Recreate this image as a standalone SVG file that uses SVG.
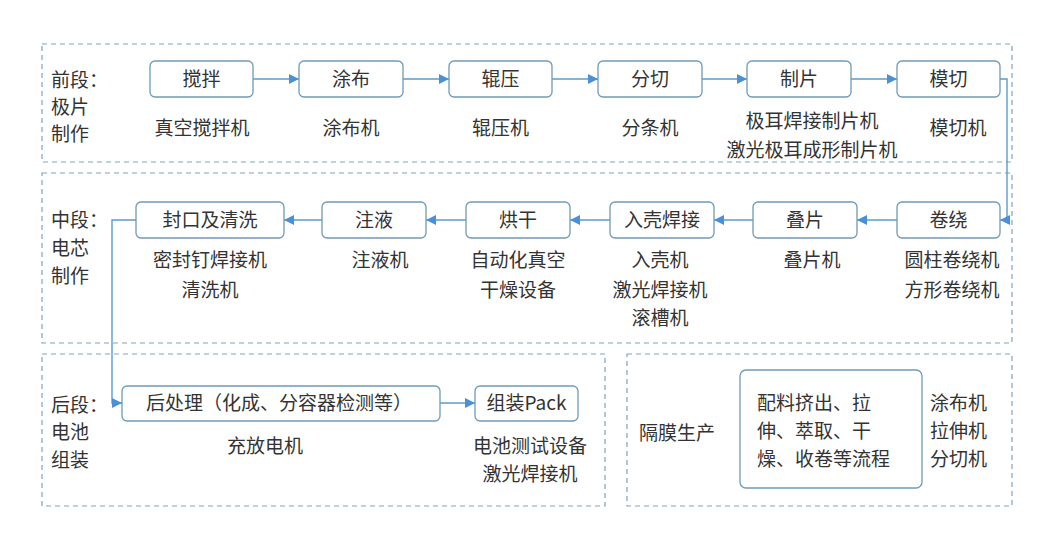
<svg xmlns="http://www.w3.org/2000/svg" width="1050" height="540" viewBox="0 0 1050 540">
<defs>
<marker id="ah" viewBox="0 0 10 10" refX="10" refY="5" markerWidth="10" markerHeight="10" markerUnits="userSpaceOnUse" orient="auto">
<path d="M0,0 L10,5 L0,10 z" fill="#4a90d9"/>
</marker>
<style>
.panel{fill:none;stroke:#7fa3bb;stroke-width:1.2;stroke-dasharray:5 4}
.box{fill:#ffffff;stroke:#6f9bb8;stroke-width:1.3}
.t{font-family:"Noto Sans CJK SC","Noto Sans",sans-serif;font-size:19px;fill:#333333}
.c{text-anchor:middle}
.conn{fill:none;stroke:#5c9bc9;stroke-width:1.4}
</style>
</defs>
<rect width="1050" height="540" fill="#ffffff"/>
<g id="panels">
<rect class="panel" x="42" y="44" width="970" height="118"/>
<rect class="panel" x="42" y="173" width="970" height="170"/>
<rect class="panel" x="42" y="354" width="563" height="152"/>
<rect class="panel" x="627" y="354" width="385" height="152"/>
</g>
<g id="stage-labels">
<text class="t" x="51" y="87">前段：</text><text class="t" x="51" y="114">极片</text><text class="t" x="51" y="141">制作</text>
<text class="t" x="51" y="227">中段：</text><text class="t" x="51" y="255">电芯</text><text class="t" x="51" y="283">制作</text>
<text class="t" x="51" y="412">后段：</text><text class="t" x="51" y="439">电池</text><text class="t" x="51" y="467">组装</text>
</g>
<g id="connectors">
<path class="conn" d="M253,79 H299" marker-end="url(#ah)"/>
<path class="conn" d="M403,79 H449" marker-end="url(#ah)"/>
<path class="conn" d="M552,79 H598" marker-end="url(#ah)"/>
<path class="conn" d="M702,79 H747" marker-end="url(#ah)"/>
<path class="conn" d="M851,79 H897" marker-end="url(#ah)"/>
<path class="conn" d="M1000,79 H1007 V220 H1000" marker-end="url(#ah)"/>
<path class="conn" d="M897,220 H857" marker-end="url(#ah)"/>
<path class="conn" d="M753,220 H714" marker-end="url(#ah)"/>
<path class="conn" d="M610,220 H570" marker-end="url(#ah)"/>
<path class="conn" d="M466,220 H426" marker-end="url(#ah)"/>
<path class="conn" d="M322,220 H284" marker-end="url(#ah)"/>
<path class="conn" d="M136,220 H112 V403 H122" marker-end="url(#ah)"/>
<path class="conn" d="M440,403 H475" marker-end="url(#ah)"/>
</g>
<g id="n-jiaoban"><rect class="box" x="150" y="61" width="103" height="36" rx="5"/><text class="t c" x="201.5" y="86">搅拌</text><text class="t c" x="202" y="135">真空搅拌机</text></g>
<g id="n-tubu"><rect class="box" x="299" y="61" width="104" height="36" rx="5"/><text class="t c" x="351" y="86">涂布</text><text class="t c" x="351" y="135">涂布机</text></g>
<g id="n-gunya"><rect class="box" x="449" y="61" width="103" height="36" rx="5"/><text class="t c" x="500.5" y="86">辊压</text><text class="t c" x="500.5" y="135">辊压机</text></g>
<g id="n-fenqie"><rect class="box" x="598" y="61" width="104" height="36" rx="5"/><text class="t c" x="650" y="86">分切</text><text class="t c" x="650" y="135">分条机</text></g>
<g id="n-zhipian"><rect class="box" x="747" y="61" width="104" height="36" rx="5"/><text class="t c" x="799" y="86">制片</text><text class="t c" x="812" y="128">极耳焊接制片机</text><text class="t c" x="812" y="157">激光极耳成形制片机</text></g>
<g id="n-moqie"><rect class="box" x="897" y="61" width="103" height="36" rx="5"/><text class="t c" x="948.5" y="86">模切</text><text class="t c" x="958" y="135">模切机</text></g>
<g id="n-juanrao"><rect class="box" x="897" y="202" width="103" height="36" rx="5"/><text class="t c" x="948.5" y="227">卷绕</text><text class="t c" x="952" y="267">圆柱卷绕机</text><text class="t c" x="952" y="297">方形卷绕机</text></g>
<g id="n-diepian"><rect class="box" x="753" y="202" width="104" height="36" rx="5"/><text class="t c" x="805" y="227">叠片</text><text class="t c" x="812" y="267">叠片机</text></g>
<g id="n-ruke"><rect class="box" x="610" y="202" width="104" height="36" rx="5"/><text class="t c" x="662" y="227">入壳焊接</text><text class="t c" x="660" y="267">入壳机</text><text class="t c" x="660" y="297">激光焊接机</text><text class="t c" x="660" y="325">滚槽机</text></g>
<g id="n-honggan"><rect class="box" x="466" y="202" width="104" height="36" rx="5"/><text class="t c" x="518" y="227">烘干</text><text class="t c" x="518" y="267">自动化真空</text><text class="t c" x="518" y="297">干燥设备</text></g>
<g id="n-zhuye"><rect class="box" x="322" y="202" width="104" height="36" rx="5"/><text class="t c" x="374" y="227">注液</text><text class="t c" x="380" y="267">注液机</text></g>
<g id="n-fengkou"><rect class="box" x="136" y="202" width="148" height="36" rx="5"/><text class="t c" x="210" y="227">封口及清洗</text><text class="t c" x="210" y="267">密封钉焊接机</text><text class="t c" x="210" y="297">清洗机</text></g>
<g id="n-houchuli"><rect class="box" x="122" y="386" width="318" height="35" rx="5"/><text class="t" x="146" y="410">后处理（化成、分容器检测等）</text><text class="t c" x="265" y="453">充放电机</text></g>
<g id="n-pack"><rect class="box" x="475" y="386" width="103" height="35" rx="5"/><text class="t c" x="526.5" y="410">组装Pack</text><text class="t c" x="530" y="453">电池测试设备</text><text class="t c" x="530" y="481">激光焊接机</text></g>
<g id="n-gemo"><text class="t" x="639" y="440">隔膜生产</text><rect class="box" x="740" y="370" width="182" height="118" rx="6"/><text class="t" x="757" y="410">配料挤出、拉</text><text class="t" x="757" y="438">伸、萃取、干</text><text class="t" x="757" y="466">燥、收卷等流程</text><text class="t" x="930" y="410">涂布机</text><text class="t" x="930" y="438">拉伸机</text><text class="t" x="930" y="466">分切机</text></g>
</svg>
